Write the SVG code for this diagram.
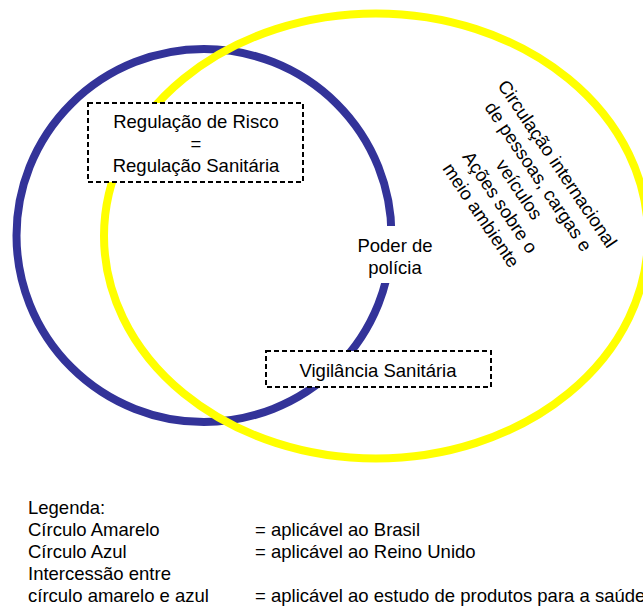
<svg xmlns="http://www.w3.org/2000/svg" width="643" height="610" viewBox="0 0 643 610">
  <style>
    .lbl { font-family: "Liberation Sans", Arial, sans-serif; font-size: 18.5px; fill: #000; }
    .leg { font-family: "Liberation Sans", Arial, sans-serif; font-size: 18.5px; fill: #000; }
    .mid { text-anchor: middle; }
    .ring { fill: none; stroke-width: 8; }
    .box { fill: #fff; stroke: #000; stroke-width: 2; stroke-dasharray: 5 3; }
  </style>
  <rect width="643" height="610" fill="#fff"/>

  <!-- Sets -->
  <g id="circulo-azul">
    <ellipse class="ring" cx="204" cy="235.5" rx="187.5" ry="186.5" stroke="#333399"/>
  </g>
  <g id="circulo-amarelo">
    <ellipse class="ring" cx="376" cy="236" rx="272" ry="222.5" stroke="#FFFF00"/>
  </g>

  <!-- Labels -->
  <g id="poder-de-policia">
    <rect x="352" y="226" width="86" height="57" fill="#fff"/>
    <text class="lbl mid" x="395" y="252">Poder de</text>
    <text class="lbl mid" x="395" y="274">polícia</text>
  </g>

  <g id="regulacao">
    <rect class="box" x="88" y="103" width="215" height="79"/>
    <text class="lbl mid" x="196" y="128">Regulação de Risco</text>
    <text class="lbl mid" x="196" y="150">=</text>
    <text class="lbl mid" x="196" y="172">Regulação Sanitária</text>
  </g>

  <g id="vigilancia">
    <rect class="box" x="266" y="351" width="225" height="36"/>
    <text class="lbl mid" x="378" y="377">Vigilância Sanitária</text>
  </g>

  <g id="circulacao" transform="translate(514,193) rotate(56)">
    <text class="lbl mid" x="0" y="-46">Circulação internacional</text>
    <text class="lbl mid" x="0" y="-23">de pessoas, cargas e</text>
    <text class="lbl mid" x="0" y="0">veículos</text>
    <text class="lbl mid" x="0" y="23">Ações sobre o</text>
    <text class="lbl mid" x="0" y="46">meio ambiente</text>
  </g>

  <g id="connectors"></g>

  <!-- Legend -->
  <g id="legenda">
    <text class="leg" x="28" y="514">Legenda:</text>
    <text class="leg" x="28" y="536">Círculo Amarelo</text>
    <text class="leg" x="28" y="558">Círculo Azul</text>
    <text class="leg" x="28" y="580">Intercessão entre</text>
    <text class="leg" x="28" y="602">círculo amarelo e azul</text>
    <text class="leg" x="255" y="536">= aplicável ao Brasil</text>
    <text class="leg" x="255" y="558">= aplicável ao Reino Unido</text>
    <text class="leg" x="255" y="602">= aplicável ao estudo de produtos para a saúde</text>
  </g>
</svg>
